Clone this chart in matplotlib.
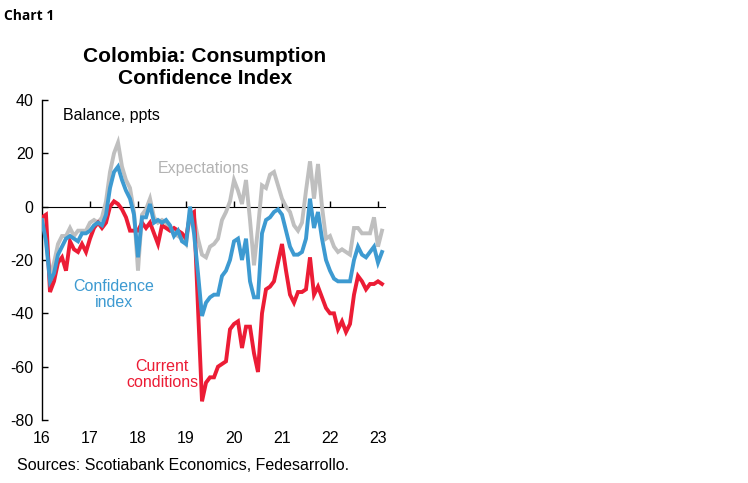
import matplotlib
matplotlib.use("Agg")
import matplotlib.pyplot as plt
import numpy as np

# Monthly data, Jan 2016 - Feb 2023 (balance, ppts)
start_year = 2016
confidence = [-5, -13, -28, -25, -18, -15, -12, -11, -12, -13, -10, -10,
              -9, -7, -6, -7, -3, 7, 13, 15, 10, 6, 3, -3,
              -19, -4, -4, 1, -6, -5, -6, -5, -7, -11, -9, -13,
              -14, 0, -10, -25, -41, -36, -34, -33, -33, -26, -24, -20,
              -13, -12, -20, -12, -28, -34, -34, -10, -5, -4, -2, -1,
              -3, -9, -15, -18, -18, -17, -12, 3, -8, -2, -12, -20,
              -24, -27, -28, -28, -28, -28, -20, -15, -18, -19, -17, -15,
              -21, -17]
current = [-4, -3, -32, -28, -21, -19, -24, -13, -16, -17, -14, -17,
           -12, -8, -6, -8, -6, 0, 2, 1, -1, -4, -9, -9,
           -9, -6, -8, -6, -10, -14, -7, -8, -9, -8, -9, -10,
           -12, -3, -2, -38, -73, -66, -64, -64, -60, -59, -58, -46,
           -44, -43, -53, -45, -45, -55, -62, -40, -31, -30, -28, -21,
           -14, -24, -33, -36, -32, -32, -31, -19, -33, -30, -34, -38,
           -40, -40, -46, -43, -47, -44, -33, -26, -28, -31, -29, -29,
           -28, -29]
expectations = [-6, -12, -26, -21, -14, -11, -11, -8, -11, -9, -9, -9,
                -6, -5, -6, -4, 2, 13, 20, 24, 15, 10, 7, -2,
                -24, -3, -1, 3, -4, -6, -5, -6, -8, -10, -11, -12,
                -14, -3, -4, -12, -18, -19, -15, -14, -12, -5, -2, 2,
                10, 6, 1, 10, -5, -22, -8, 8, 7, 12, 13, 8,
                3, 0, -2, -7, -9, -6, 6, 17, 3, 16, 0, -12,
                -11, -15, -17, -16, -17, -18, -8, -8, -10, -10, -10, -4,
                -15, -9]
year_ticks = [2016, 2017, 2018, 2019, 2020, 2021, 2022, 2023]
year_labels = ["16", "17", "18", "19", "20", "21", "22", "23"]
y_ticks = [40, 20, 0, -20, -40, -60, -80]

x = start_year + np.arange(len(confidence)) / 12.0

plt.rcParams['font.family'] = ['Liberation Sans', 'DejaVu Sans']

fig = plt.figure(figsize=(7.48, 4.83), dpi=100)
ax = fig.add_axes([42 / 748, 1 - 420 / 483, (385 - 42) / 748, 320 / 483])

GRAY = '#BFBFBF'
BLUE = '#3D9AD1'
RED = '#EC1C35'

ax.plot(x, expectations, color=GRAY, lw=2.8, solid_joinstyle='miter', zorder=2)
ax.plot(x, current, color=RED, lw=2.8, solid_joinstyle='miter', zorder=3)
ax.plot(x, confidence, color=BLUE, lw=2.8, solid_joinstyle='miter', zorder=4)

ax.set_xlim(2016, 2016 + 343 / 48)
ax.set_ylim(-80, 40)

for s in ['top', 'right', 'bottom']:
    ax.spines[s].set_visible(False)
ax.spines['left'].set_linewidth(1.0)

ax.set_yticks(y_ticks)
ax.set_yticklabels([str(v) for v in y_ticks])
ax.tick_params(axis='y', direction='in', length=4, width=1, labelsize=11.5, pad=6)

ax.set_xticks(year_ticks)
ax.set_xticklabels(year_labels)
ax.tick_params(axis='x', length=0, labelsize=11.5, pad=8)

# zero line with downward ticks
sec = ax.secondary_xaxis(80 / 120)
sec.set_xticks(year_ticks[1:])
sec.set_xticklabels([])
sec.tick_params(axis='x', direction='out', length=4, width=1)
sec.spines['bottom'].set_linewidth(1.2)

ax.text(0.06, 0.975, 'Balance, ppts', transform=ax.transAxes, fontsize=11.5,
        va='top', ha='left')
ax.text(2019.37, 14.5, 'Expectations', color='#B3B3B3', fontsize=11.5,
        ha='center', va='center')
ax.text(2017.5, -33, 'Confidence\nindex', color=BLUE, fontsize=11.5,
        ha='center', va='center', linespacing=1.05)
ax.text(2018.5, -63, 'Current\nconditions', color=RED, fontsize=11.5,
        ha='center', va='center', linespacing=1.05)

fig.text(4 / 748, 1 - 16 / 483, 'Chart 1', fontsize=10, fontweight='bold',
         family=['Open Sans', 'DejaVu Sans'], ha='left', va='center')
fig.text(205 / 748, 1 - 67.5 / 483, 'Colombia: Consumption\nConfidence Index',
         fontsize=15, fontweight='bold', ha='center', va='center',
         linespacing=1.2)
fig.text(17 / 748, 1 - 465 / 483, 'Sources: Scotiabank Economics, Fedesarrollo.',
         fontsize=11.5, ha='left', va='center')

fig.savefig('out.png', dpi=100)
